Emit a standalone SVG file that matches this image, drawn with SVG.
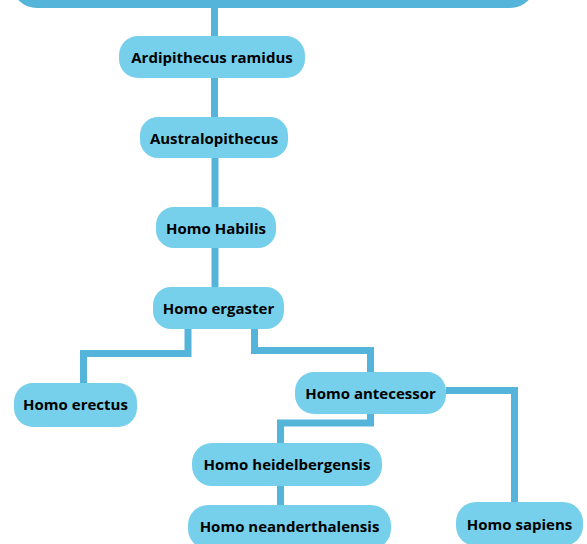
<svg xmlns="http://www.w3.org/2000/svg" width="587" height="544" viewBox="0 0 587 544">
<style>
.n{fill:#76cfeb}
.t{font-family:"Open Sans","Liberation Sans",sans-serif;font-weight:bold;font-size:15px;fill:#000;text-anchor:middle;dominant-baseline:central}
.c{fill:none;stroke:#55b4da;stroke-width:7;stroke-linejoin:miter}
</style>
<rect width="587" height="544" fill="#fff"/>
<g id="top"><rect x="12" y="-40" width="523" height="48" rx="25" fill="#55b4da"/></g>
<g id="connectors">
<path class="c" d="M214.5 6V36"/>
<path class="c" d="M214.5 78V117"/>
<path class="c" d="M215 158V207"/>
<path class="c" d="M215 248V287"/>
<path class="c" d="M188 329V353.5H83.5V383"/>
<path class="c" d="M254.5 329V350.5H370.5V372"/>
<path class="c" d="M370.5 414V423H280.5V443"/>
<path class="c" d="M280.5 486V505"/>
<path class="c" d="M446 390.5H514.5V502"/>
</g>
<g id="ardipithecus"><rect class="n" x="119" y="36" width="186" height="42" rx="19"/><text class="t" x="212" y="56.5">Ardipithecus ramidus</text></g>
<g id="australopithecus"><rect class="n" x="140" y="117" width="148" height="41" rx="18"/><text class="t" x="214" y="137.5">Australopithecus</text></g>
<g id="habilis"><rect class="n" x="156" y="207" width="120" height="41" rx="18"/><text class="t" x="216" y="227.5">Homo Habilis</text></g>
<g id="ergaster"><rect class="n" x="153" y="287" width="131" height="42" rx="18"/><text class="t" x="218.5" y="307.5">Homo ergaster</text></g>
<g id="erectus"><rect class="n" x="14" y="383" width="123" height="44" rx="19"/><text class="t" x="75.5" y="403.5">Homo erectus</text></g>
<g id="antecessor"><rect class="n" x="295" y="372" width="151" height="42" rx="19"/><text class="t" x="370.5" y="392.5">Homo antecessor</text></g>
<g id="heidelbergensis"><rect class="n" x="192" y="443" width="190" height="43" rx="20"/><text class="t" x="287" y="463.5">Homo heidelbergensis</text></g>
<g id="neanderthalensis"><rect class="n" x="188" y="505" width="203" height="44" rx="20"/><text class="t" x="289.5" y="525.5">Homo neanderthalensis</text></g>
<g id="sapiens"><rect class="n" x="456" y="502" width="127" height="44" rx="20"/><text class="t" x="519.5" y="523.5">Homo sapiens</text></g>
</svg>
